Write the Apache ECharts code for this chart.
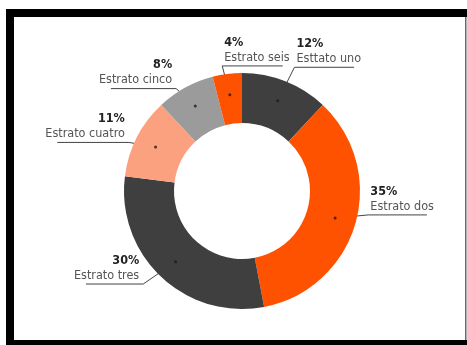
<!DOCTYPE html>
<html><head><meta charset="utf-8">
<script src="https://cdn.jsdelivr.net/npm/echarts@6/dist/echarts.min.js"></script>
<style>html,body{margin:0;padding:0;background:#fff}#c{width:467px;height:345px}</style>
</head><body><div id="c"></div>
<script>
// ---- data ----
const categories = ['Esttato uno', 'Estrato dos', 'Estrato tres', 'Estrato cuatro', 'Estrato cinco', 'Estrato seis'];
const percentValues = [12, 35, 30, 11, 8, 4];
const sliceColors = ['#3f3f3f', '#ff5200', '#3f3f3f', '#fba17f', '#9b9b9b', '#ff5200'];

// ---- layout (label anchor offsets relative to slice outer edge point) ----
const labelOffsets = [[9, -14], [13, -9], [-18, 7], [-8, 5], [-9, 1], [-5, -8]];
const labelSides = ['right', 'right', 'left', 'left', 'left', 'right'];

const CX = 242, CY = 191, R_IN = 68, R_OUT = 118, R_DOT = 97;
const FONT = "'DejaVu Sans Condensed','Liberation Sans Narrow',sans-serif";

const total = percentValues.reduce((a, b) => a + b, 0);
let acc = 0;
const dotData = percentValues.map(v => { const mid = acc + v / 2; acc += v; return [R_DOT, mid]; });

const chart = echarts.init(document.getElementById('c'), null, { renderer: 'canvas' });
chart.setOption({
  animation: false,
  backgroundColor: '#fff',
  polar: { center: [CX, CY], radius: [0, R_OUT] },
  angleAxis: { type: 'value', min: 0, max: total, startAngle: 90, clockwise: true, show: false },
  radiusAxis: { type: 'value', min: 0, max: R_OUT, show: false },
  graphic: [
    { type: 'rect', silent: true, shape: { x: 6, y: 9, width: 461, height: 8 }, style: { fill: '#000' } },
    { type: 'rect', silent: true, shape: { x: 6, y: 9, width: 8, height: 336 }, style: { fill: '#000' } },
    { type: 'rect', silent: true, shape: { x: 6, y: 340, width: 461, height: 5 }, style: { fill: '#000' } },
    { type: 'rect', silent: true, shape: { x: 465, y: 17, width: 1.5, height: 323 }, style: { fill: '#6a6a6a' } }
  ],
  series: [
    {
      type: 'pie',
      center: [CX, CY],
      radius: [R_IN, R_OUT],
      startAngle: 90,
      clockwise: true,
      avoidLabelOverlap: false,
      silent: true,
      data: categories.map((n, i) => ({
        name: n, value: percentValues[i],
        itemStyle: { color: sliceColors[i] },
        label: { align: labelSides[i] === 'right' ? 'left' : 'right' }
      })),
      label: {
        show: true,
        position: 'outside',
        formatter: p => '{p|' + p.value + '%}\n{n|' + p.name + '}',
        rich: {
          p: { fontFamily: FONT, fontWeight: 'bold', fontSize: 12.5, color: '#222', lineHeight: 15 },
          n: { fontFamily: FONT, fontSize: 12.5, color: '#555', lineHeight: 15 }
        }
      },
      labelLine: { show: true, length: 5, length2: 5, lineStyle: { color: '#444', width: 1 } },
      labelLayout: function (params) {
        const i = params.dataIndex;
        const p0 = params.labelLinePoints[0];
        const dx = p0[0] - CX, dy = p0[1] - CY, len = Math.hypot(dx, dy);
        const ux = dx / len, uy = dy / len;
        const edge = [CX + ux * R_OUT, CY + uy * R_OUT];
        const start = [CX + ux * R_DOT, CY + uy * R_DOT];
        const corner = [edge[0] + labelOffsets[i][0], edge[1] + labelOffsets[i][1]];
        const w = params.labelRect.width;
        if (labelSides[i] === 'right') {
          return { x: corner[0] + 2, y: corner[1] - 1, align: 'left', verticalAlign: 'bottom',
            labelLinePoints: [start, corner, [corner[0] + w - 5, corner[1]]] };
        }
        return { x: corner[0] - 4, y: corner[1] - 1, align: 'right', verticalAlign: 'bottom',
          labelLinePoints: [start, corner, [corner[0] - w + 8, corner[1]]] };
      }
    },
    {
      type: 'scatter',
      coordinateSystem: 'polar',
      data: dotData,
      symbolSize: 3,
      silent: true,
      z: 5,
      itemStyle: { color: '#1a1a1a' }
    }
  ]
});
</script>
</body></html>
